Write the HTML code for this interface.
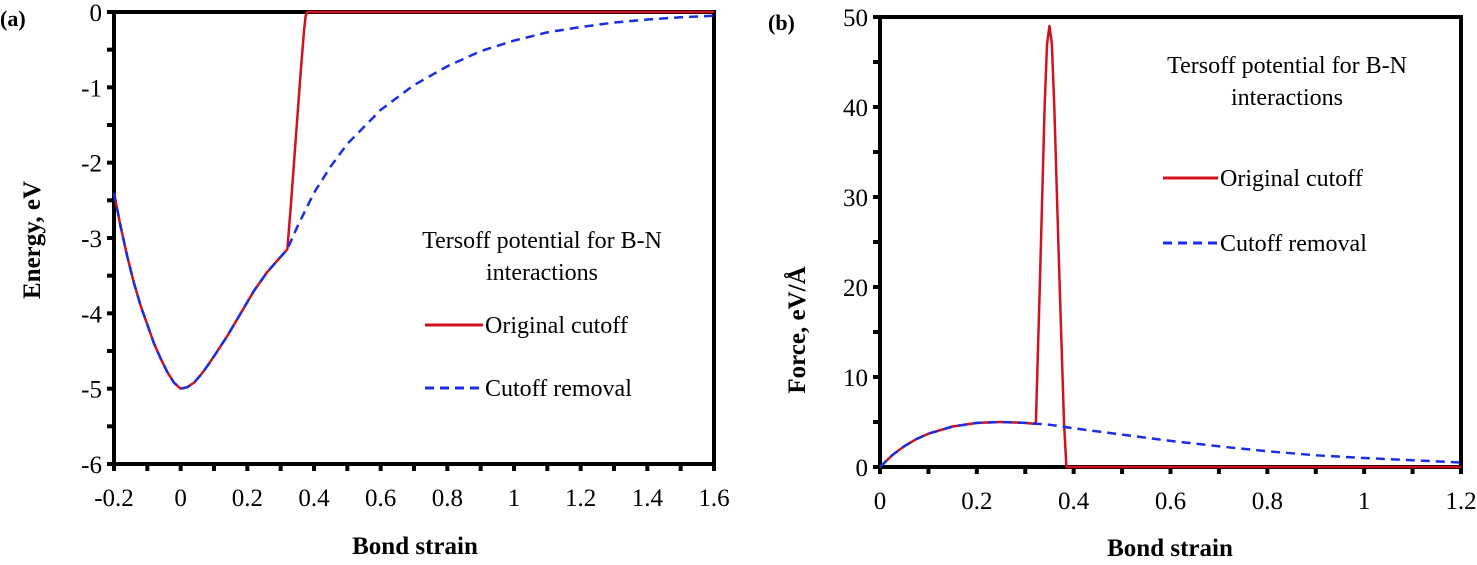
<!DOCTYPE html>
<html><head><meta charset="utf-8"><style>
body{margin:0;background:#fff;width:1477px;height:560px;overflow:hidden}
svg{font-family:"Liberation Serif",serif}
</style></head><body>
<svg id="c" width="1477" height="560">
<text x="0" y="26" font-size="22" font-weight="bold">(a)</text>
<text x="768" y="30" font-size="22" font-weight="bold">(b)</text>
<text transform="translate(40,240) rotate(-90)" text-anchor="middle" font-size="25" font-weight="bold">Energy, eV</text>
<text x="415" y="554" text-anchor="middle" font-size="25" font-weight="bold">Bond strain</text>
<text transform="translate(805,330) rotate(-90)" text-anchor="middle" font-size="25" font-weight="bold">Force, eV/Å</text>
<text x="1170" y="556" text-anchor="middle" font-size="25" font-weight="bold">Bond strain</text>
<g id="ga"></g><g id="gb"></g>
<text x="542" y="248" text-anchor="middle" font-size="24">Tersoff potential for B-N</text>
<text x="542" y="280" text-anchor="middle" font-size="24">interactions</text>
<line x1="425" y1="325" x2="483" y2="325" stroke="#d0121f" stroke-width="3"/>
<text x="485" y="333" font-size="24">Original cutoff</text>
<line x1="425" y1="388" x2="483" y2="388" stroke="#1a2ee6" stroke-width="3" stroke-dasharray="9,6"/>
<text x="485" y="396" font-size="24">Cutoff removal</text>
<text x="1287" y="73" text-anchor="middle" font-size="24">Tersoff potential for B-N</text>
<text x="1287" y="105" text-anchor="middle" font-size="24">interactions</text>
<line x1="1163" y1="178" x2="1218" y2="178" stroke="#d0121f" stroke-width="3"/>
<text x="1220" y="186" font-size="24">Original cutoff</text>
<line x1="1163" y1="243" x2="1218" y2="243" stroke="#1a2ee6" stroke-width="3" stroke-dasharray="9,6"/>
<text x="1220" y="251" font-size="24">Cutoff removal</text>
</svg>
<script>
const aOrigX=[-0.2,-0.18,-0.16,-0.14,-0.12,-0.1,-0.08,-0.06,-0.04,-0.02,0,0.02,0.04,0.06,0.08,0.1,0.14,0.18,0.22,0.26,0.3,0.32,0.33,0.34,0.35,0.36,0.37,0.375,0.38,1.6];
const aOrigY=[-2.4,-2.85,-3.25,-3.6,-3.9,-4.15,-4.4,-4.6,-4.78,-4.92,-5.0,-4.98,-4.92,-4.82,-4.7,-4.57,-4.3,-4.0,-3.7,-3.45,-3.25,-3.15,-2.6,-2.0,-1.4,-0.8,-0.25,-0.05,0,0];
const aCutX=[-0.2,-0.18,-0.16,-0.14,-0.12,-0.1,-0.08,-0.06,-0.04,-0.02,0,0.02,0.04,0.06,0.08,0.1,0.14,0.18,0.22,0.26,0.3,0.32,0.35,0.4,0.45,0.5,0.6,0.7,0.8,0.9,1.0,1.1,1.2,1.3,1.4,1.5,1.6];
const aCutY=[-2.4,-2.85,-3.25,-3.6,-3.9,-4.15,-4.4,-4.6,-4.78,-4.92,-5.0,-4.98,-4.92,-4.82,-4.7,-4.57,-4.3,-4.0,-3.7,-3.45,-3.25,-3.15,-2.85,-2.4,-2.05,-1.75,-1.3,-0.97,-0.72,-0.52,-0.38,-0.27,-0.2,-0.14,-0.1,-0.07,-0.05];
const bOrigX=[0,0.025,0.05,0.075,0.1,0.15,0.2,0.25,0.3,0.318,0.322,0.33,0.34,0.345,0.35,0.355,0.36,0.37,0.38,0.385,0.39,1.2];
const bOrigY=[0,1.3,2.3,3.1,3.7,4.5,4.9,5.0,4.9,4.8,5,20,40,47,49,47,40,22,5,0,0,0];
const bCutX=[0,0.025,0.05,0.075,0.1,0.15,0.2,0.25,0.3,0.35,0.4,0.5,0.6,0.7,0.8,0.9,1.0,1.1,1.2];
const bCutY=[0,1.3,2.3,3.1,3.7,4.5,4.9,5.0,4.9,4.7,4.3,3.6,2.9,2.3,1.75,1.3,1.0,0.75,0.5];
const aXTicks=["-0.2","0","0.2","0.4","0.6","0.8","1","1.2","1.4","1.6"];
const aYTicks=["0","-1","-2","-3","-4","-5","-6"];
const bXTicks=["0","0.2","0.4","0.6","0.8","1","1.2"];
const bYTicks=["0","10","20","30","40","50"];
const NS="http://www.w3.org/2000/svg";
function mk(g,t,at){const e=document.createElementNS(NS,t);for(const k in at)e.setAttribute(k,at[k]);g.appendChild(e);return e;}
function panel(gid,L,R,T,B,x0,x1,y0,y1,xt,yt,xminor,yminor,series,tag){
 const g=document.getElementById(gid);
 const sx=v=>L+(v-x0)/(x1-x0)*(R-L), sy=v=>B-(v-y0)/(y1-y0)*(B-T);
 for(let v=x0;v<=x1+1e-9;v+=xminor){const t=mk(g,'line',{x1:sx(v),x2:sx(v),y1:B,y2:B+7,stroke:'#000','stroke-width':4});
 
 }
 for(let v=y0;v<=y1+1e-9;v+=yminor){const t=mk(g,'line',{x1:L-7,x2:L,y1:sy(v),y2:sy(v),stroke:'#000','stroke-width':4});
 
 }
 xt.forEach(s=>{const t=mk(g,'text',{x:sx(+s),y:B+42,'text-anchor':'middle','font-size':25});t.textContent=s;
 
 });
 yt.forEach(s=>{const t=mk(g,'text',{x:L-12,y:sy(+s)+9,'text-anchor':'end','font-size':25});t.textContent=s;
 
 });
 const f=mk(g,'rect',{x:L,y:T,width:R-L,height:B-T,fill:'none',stroke:'#000','stroke-width':4});
 
 
 series.forEach(s=>{const p=mk(g,'polyline',{points:s.x.map((v,i)=>sx(v)+','+sy(s.y[i])).join(' '),fill:'none',stroke:s.c,'stroke-width':2.5,'stroke-dasharray':s.d||'none','stroke-linejoin':'round'});
 
 });
}
panel('ga',114,714,12,464,-0.2,1.6,-6,0,aXTicks,aYTicks,0.1,0.5,
 [{x:aOrigX,y:aOrigY,c:'#d0121f',n:'original-cutoff-line'},{x:aCutX,y:aCutY,c:'#1a2ee6',d:'9,6',n:'cutoff-removal-line'}],'energy');
panel('gb',880,1461,17,467,0,1.2,0,50,bXTicks,bYTicks,0.1,5,
 [{x:bOrigX,y:bOrigY,c:'#d0121f',n:'original-cutoff-line'},{x:bCutX,y:bCutY,c:'#1a2ee6',d:'9,6',n:'cutoff-removal-line'}],'force');
</script>
</body></html>
